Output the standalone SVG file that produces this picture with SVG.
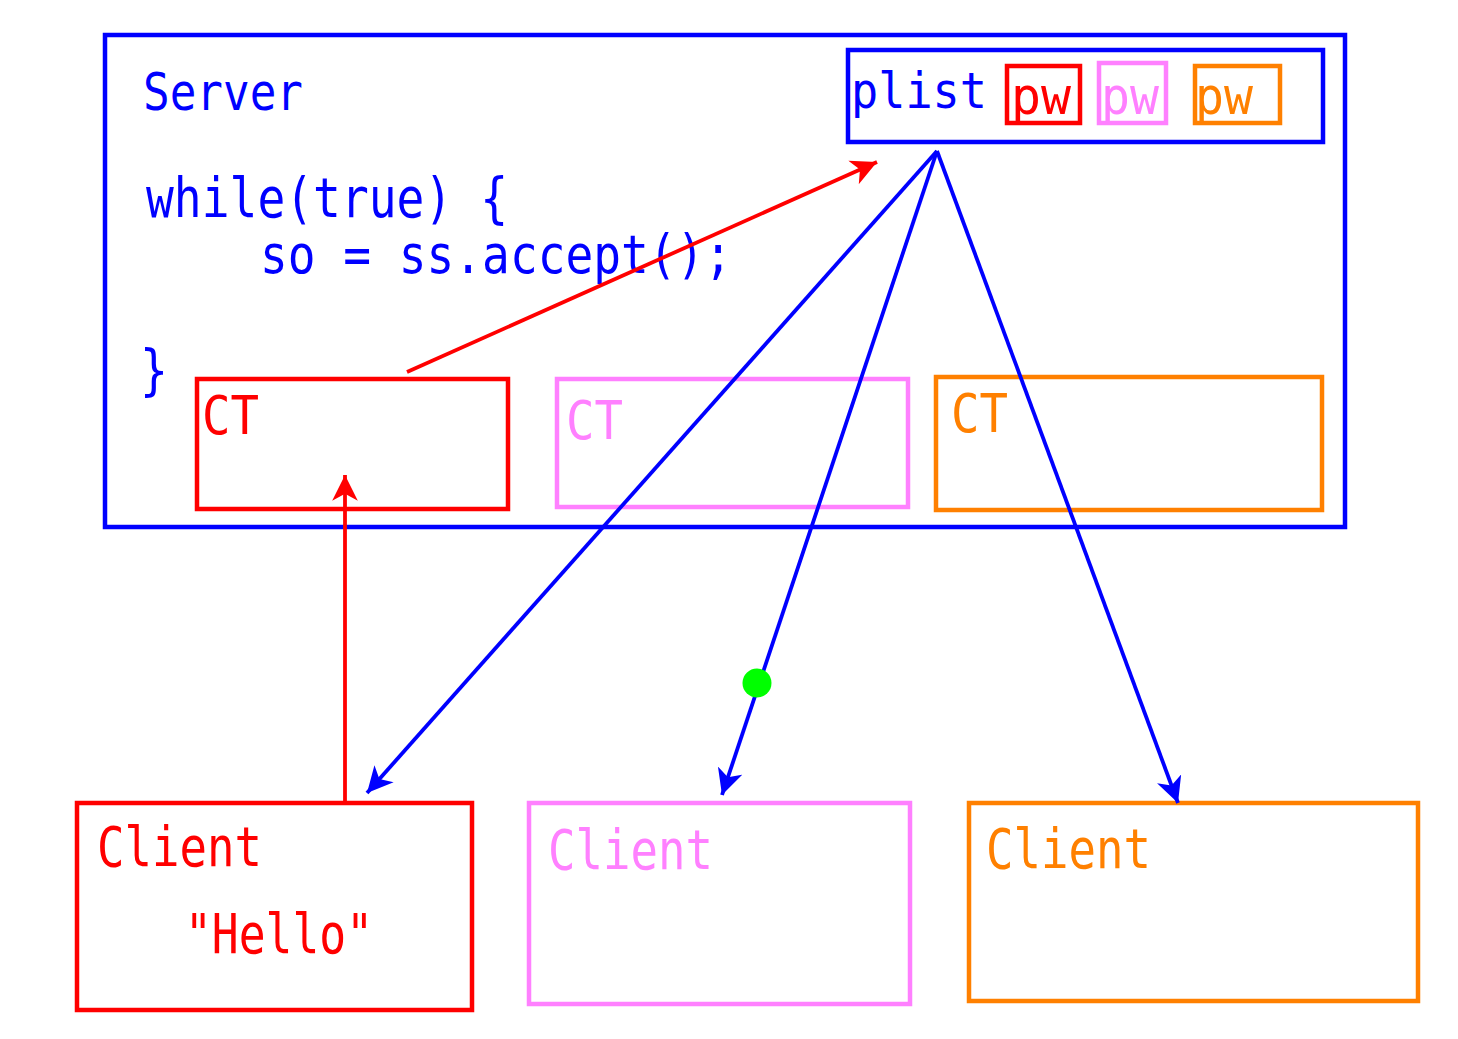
<svg xmlns="http://www.w3.org/2000/svg" width="1458" height="1039" viewBox="0 0 1458 1039">
<defs>
<style>
.t{font-family:"DejaVu Sans Mono","Liberation Mono",monospace;font-weight:normal}
.box{fill:none;stroke-width:4.5}
.blue{fill:#0000ff}.red{fill:#ff0000}.pink{fill:#ff80ff}.orange{fill:#ff8000}
.sb{stroke:#0000ff}.sr{stroke:#ff0000}.sp{stroke:#ff80ff}.so{stroke:#ff8000}
.ln{fill:none;stroke-width:3.8}
</style>
<marker id="ahr" markerUnits="userSpaceOnUse" markerWidth="28" markerHeight="26" viewBox="0 0 24 22" refX="22" refY="11" orient="auto">
<path d="M0,0 L22,11 L0,22 L6,11 Z" fill="#ff0000"/>
</marker>
<marker id="ahb" markerUnits="userSpaceOnUse" markerWidth="28" markerHeight="26" viewBox="0 0 24 22" refX="22" refY="11" orient="auto">
<path d="M0,0 L22,11 L0,22 L6,11 Z" fill="#0000ff"/>
</marker>
</defs>
<rect width="1458" height="1039" fill="#ffffff"/>
<g id="server">
<rect class="box sb" x="105" y="35" width="1240" height="492"/>
<text class="t blue" x="143" y="110" font-size="52" textLength="160" lengthAdjust="spacingAndGlyphs">Server</text>
<text class="t blue" x="146" y="217" font-size="55" textLength="362" lengthAdjust="spacingAndGlyphs">while(true) {</text>
<text class="t blue" x="260" y="273" font-size="54" textLength="472" lengthAdjust="spacingAndGlyphs">so = ss.accept();</text>
<text class="t blue" x="140" y="389" font-size="56" textLength="28" lengthAdjust="spacingAndGlyphs">}</text>
</g>
<g id="plist">
<rect class="box sb" x="848" y="50" width="475" height="92"/>
<text class="t blue" x="851" y="108" font-size="50" textLength="136" lengthAdjust="spacingAndGlyphs">plist</text>
</g>
<g id="pw-red">
<rect class="box sr" x="1007" y="66" width="73" height="57" stroke-width="4"/>
<text class="t red" x="1011" y="114" font-size="52" textLength="60" lengthAdjust="spacingAndGlyphs">pw</text>
</g>
<g id="pw-pink">
<rect class="box sp" x="1099" y="63" width="67" height="60" stroke-width="4"/>
<text class="t pink" x="1101" y="114" font-size="52" textLength="58" lengthAdjust="spacingAndGlyphs">pw</text>
</g>
<g id="pw-orange">
<rect class="box so" x="1195" y="66" width="85" height="57" stroke-width="4"/>
<text class="t orange" x="1195" y="114" font-size="52" textLength="58" lengthAdjust="spacingAndGlyphs">pw</text>
</g>
<g id="ct-red">
<rect class="box sr" x="197" y="379" width="311" height="130"/>
<text class="t red" x="202" y="434" font-size="54" textLength="57" lengthAdjust="spacingAndGlyphs">CT</text>
</g>
<g id="ct-pink">
<rect class="box sp" x="557" y="379" width="351" height="128"/>
<text class="t pink" x="566" y="439" font-size="54" textLength="57" lengthAdjust="spacingAndGlyphs">CT</text>
</g>
<g id="ct-orange">
<rect class="box so" x="936" y="377" width="386" height="133"/>
<text class="t orange" x="951" y="432" font-size="54" textLength="57" lengthAdjust="spacingAndGlyphs">CT</text>
</g>
<g id="client-red">
<rect class="box sr" x="77" y="803" width="395" height="207"/>
<text class="t red" x="97" y="866" font-size="55" textLength="165" lengthAdjust="spacingAndGlyphs">Client</text>
<text class="t red" x="185" y="953" font-size="55" textLength="188" lengthAdjust="spacingAndGlyphs">"Hello"</text>
</g>
<g id="client-pink">
<rect class="box sp" x="529" y="803" width="381" height="201"/>
<text class="t pink" x="548" y="869" font-size="55" textLength="165" lengthAdjust="spacingAndGlyphs">Client</text>
</g>
<g id="client-orange">
<rect class="box so" x="969" y="803" width="449" height="198"/>
<text class="t orange" x="986" y="868" font-size="55" textLength="165" lengthAdjust="spacingAndGlyphs">Client</text>
</g>
<g id="connectors">
<line class="ln sr" x1="407" y1="372" x2="877" y2="162" marker-end="url(#ahr)"/>
<line class="ln sr" x1="345" y1="801" x2="345" y2="475" stroke-width="4" marker-end="url(#ahr)"/>
<line class="ln sb" x1="937" y1="151" x2="367" y2="793" marker-end="url(#ahb)"/>
<line class="ln sb" x1="937" y1="151" x2="722" y2="795" marker-end="url(#ahb)"/>
<line class="ln sb" x1="937" y1="151" x2="1178" y2="803" marker-end="url(#ahb)"/>
</g>
<g id="dot">
<circle cx="757" cy="683" r="14.5" fill="#00ff00"/>
</g>
</svg>
